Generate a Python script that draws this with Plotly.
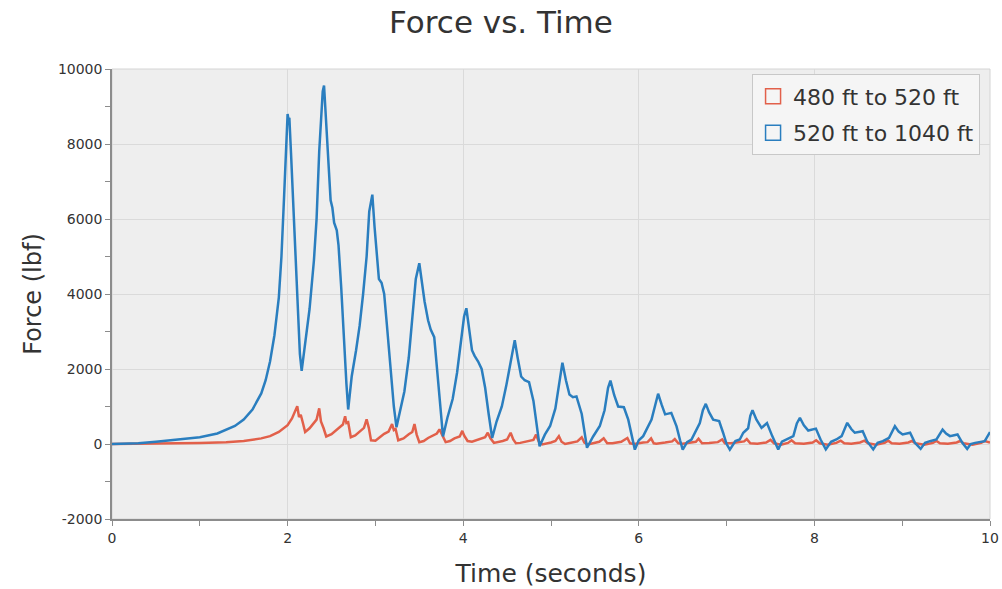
import plotly.graph_objects as go

# time (s) / force (lbf)
t_520_1040 = [0, 0.3, 0.5, 0.8, 1.0, 1.2, 1.4, 1.5, 1.6, 1.7, 1.75, 1.8, 1.85, 1.9, 1.93, 1.96, 1.98,
              2.0, 2.01, 2.02, 2.04, 2.06, 2.08, 2.10, 2.12, 2.14, 2.16, 2.2, 2.25, 2.30, 2.33, 2.36,
              2.38, 2.40, 2.415, 2.43, 2.46, 2.49, 2.51, 2.53, 2.56, 2.58, 2.61, 2.64, 2.67, 2.69,
              2.73, 2.78, 2.82, 2.86, 2.90, 2.93, 2.965, 2.99, 3.01, 3.04, 3.07, 3.10, 3.13, 3.17,
              3.21, 3.24, 3.28, 3.33, 3.38, 3.42, 3.46, 3.50, 3.53, 3.56, 3.60, 3.63, 3.67, 3.71,
              3.74, 3.77, 3.82, 3.88, 3.93, 3.98, 4.01, 4.036, 4.07, 4.10, 4.13, 4.17, 4.21, 4.25,
              4.29, 4.33, 4.38, 4.44, 4.49, 4.54, 4.587, 4.62, 4.66, 4.70, 4.75, 4.80, 4.84, 4.87,
              4.93, 4.99, 5.05, 5.09, 5.13, 5.17, 5.21, 5.25, 5.29, 5.35, 5.38, 5.41, 5.48, 5.556,
              5.61, 5.65, 5.677, 5.72, 5.765, 5.80, 5.83, 5.88, 5.92, 5.955, 6.0, 6.05, 6.145, 6.19,
              6.22, 6.26, 6.30, 6.37, 6.43, 6.47, 6.50, 6.55, 6.60, 6.695, 6.73, 6.763, 6.80, 6.847,
              6.915, 6.96, 7.0, 7.037, 7.10, 7.15, 7.19, 7.245, 7.27, 7.295, 7.34, 7.398, 7.46,
              7.52, 7.588, 7.63, 7.68, 7.76, 7.80, 7.835, 7.88, 7.93, 8.017, 8.07, 8.13, 8.19, 8.25,
              8.31, 8.374, 8.42, 8.46, 8.55, 8.60, 8.67, 8.72, 8.78, 8.85, 8.917, 8.96, 9.005, 9.09,
              9.145, 9.21, 9.26, 9.316, 9.39, 9.46, 9.50, 9.544, 9.63, 9.685, 9.74, 9.78, 9.83,
              9.94, 9.98, 10.0]
f_520_1040 = [0, 20, 60, 120, 180, 280, 480, 650, 920, 1350, 1700, 2200, 2900, 3900, 5000, 6600, 7900,
              8800, 8650, 8700, 7700, 6700, 5600, 4450, 3300, 2400, 1950, 2700, 3600, 4900, 6000, 7800,
              8800, 9400, 9560, 9000, 7600, 6500, 6300, 5900, 5700, 5300, 4200, 2800, 1600, 920,
              1800, 2500, 3150, 4000, 5000, 6200, 6650, 5800, 5250, 4400, 4300, 4000, 3200, 2000,
              1000, 450, 900, 1400, 2300, 3400, 4400, 4820, 4300, 3800, 3300, 3050, 2850, 1800,
              900, 200, 700, 1200, 1900, 2800, 3400, 3620, 3000, 2500, 2350, 2200, 2000, 1500,
              800, 160, 600, 1000, 1550, 2200, 2770, 2300, 1800, 1700, 1650, 1150, 400, -60,
              250, 480, 950, 1600, 2170, 1700, 1320, 1250, 1270, 800, 300, -100, 200, 480,
              900, 1500, 1690, 1300, 1000, 1000, 980, 650, 200, -150, 100, 210, 650, 1100,
              1340, 1050, 790, 830, 470, 100, -150, 50, 120, 560, 900, 1070, 850, 650,
              610, 300, 0, -150, 80, 120, 300, 420, 750, 900, 650, 430, 560,
              210, -145, 60, 120, 210, 550, 700, 500, 360, 410, 120, -145, 60, 120,
              210, 565, 400, 300, 340, 75, -145, 30, 75, 165, 475, 330, 255, 300,
              30, -130, 30, 75, 120, 385, 280, 210, 255, 30, -130, 0, 30,
              75, 255, 320]

t_480_520 = [0, 0.5, 1.0, 1.3, 1.5, 1.7, 1.8, 1.9, 1.95, 2.0, 2.05, 2.08, 2.11, 2.13, 2.15, 2.17,
             2.2, 2.25, 2.3, 2.33, 2.36, 2.38, 2.41, 2.44, 2.5, 2.55, 2.6, 2.63, 2.655, 2.67, 2.69,
             2.72, 2.77, 2.82, 2.87, 2.90, 2.925, 2.95, 3.0, 3.05, 3.1, 3.15, 3.19, 3.21, 3.23,
             3.26, 3.32, 3.38, 3.42, 3.445, 3.47, 3.5, 3.55, 3.6, 3.65, 3.70, 3.73, 3.75, 3.78,
             3.8, 3.85, 3.9, 3.96, 3.99, 4.01, 4.05, 4.1, 4.15, 4.2, 4.25, 4.28, 4.31, 4.35,
             4.4, 4.45, 4.5, 4.54, 4.57, 4.6, 4.65, 4.7, 4.75, 4.8, 4.83, 4.86, 4.9, 4.95,
             5.0, 5.05, 5.09, 5.12, 5.16, 5.2, 5.25, 5.3, 5.35, 5.38, 5.42, 5.5, 5.55, 5.6,
             5.64, 5.7, 5.75, 5.8, 5.87, 5.9, 5.95, 6.0, 6.05, 6.1, 6.14, 6.17, 6.2, 6.3,
             6.38, 6.41, 6.45, 6.5, 6.6, 6.65, 6.68, 6.72, 6.8, 6.9, 6.95, 6.98, 7.05, 7.15,
             7.2, 7.23, 7.27, 7.35, 7.45, 7.5, 7.54, 7.62, 7.7, 7.74, 7.78, 7.88, 7.98, 8.02,
             8.06, 8.15, 8.25, 8.3, 8.34, 8.42, 8.52, 8.57, 8.61, 8.7, 8.8, 8.84, 8.88, 8.97,
             9.07, 9.11, 9.15, 9.25, 9.35, 9.39, 9.43, 9.52, 9.62, 9.66, 9.7, 9.8, 9.9, 9.94,
             10.0]
f_480_520 = [0, 10, 30, 50, 80, 150, 210, 320, 400, 500, 680, 850, 1010, 720, 780, 600,
             320, 420, 560, 650, 950, 600, 420, 200, 260, 360, 450, 520, 740, 560, 580,
             180, 230, 330, 430, 660, 430, 100, 90, 180, 270, 330, 530, 370, 400,
             100, 150, 260, 320, 530, 250, 50, 80, 160, 230, 280, 390, 300, 160,
             50, 80, 150, 200, 350, 230, 80, 60, 100, 140, 180, 300, 150, 30,
             50, 80, 120, 300, 120, 20, 30, 60, 100, 110, 250, 70, -10, 10,
             40, 80, 210, 60, 0, 20, 40, 70, 180, 40, -10, 30, 60, 150,
             20, 20, 40, 60, 160, 20, 0, 30, 40, 50, 150, 20, 10, 40,
             70, 130, 20, 10, 40, 60, 140, 20, 30, 50, 120, 20, 20, 50,
             70, 130, 20, 10, 40, 110, 20, -20, 30, 100, 20, 10, 40, 100,
             20, -20, 30, 90, 20, 10, 40, 90, 20, -20, 30, 90, 20, 10,
             40, 80, 20, -20, 30, 80, 20, 10, 40, 80, 20, -20, 30, 80,
             40]

# y tick labels use a plain hyphen for the negative value, as in the original
y_ticks = [-2000, 0, 2000, 4000, 6000, 8000, 10000]
y_labels = ["-2000", "0", "2000", "4000", "6000", "8000", "10000"]

blue = "#2a7ebf"
red = "#e2604a"
font = "DejaVu Sans"
txt = "#333333"

fig = go.Figure()
fig.add_trace(go.Scatter(x=t_480_520, y=f_480_520, mode="lines", showlegend=False,
                         line=dict(color=red, width=2.5)))
fig.add_trace(go.Scatter(x=t_520_1040, y=f_520_1040, mode="lines", showlegend=False,
                         line=dict(color=blue, width=2.5)))
# legend-only entries, drawn as open squares like the checkboxes in the original
for name, col in [("480 ft to 520 ft", red), ("520 ft to 1040 ft", blue)]:
    fig.add_trace(go.Scatter(x=[None], y=[None], mode="markers", name=name, legendgroup=name,
                             marker=dict(symbol="square-open", size=15, color=col,
                                         line=dict(width=1.5))))

axis_common = dict(showgrid=True, gridcolor="#dadada", gridwidth=1, zeroline=False,
                   showline=True, linecolor="#8c8c8c", linewidth=1.5, automargin=False,
                   ticks="outside", ticklen=5, tickcolor="#8c8c8c", tickformat="d",
                   tickfont=dict(family=font, size=14, color=txt))

fig.update_xaxes(range=[0, 10], dtick=2, tick0=0,
                 minor=dict(dtick=1, ticks="outside", ticklen=5, tickcolor="#8c8c8c", showgrid=False),
                 title=dict(text="Time (seconds)", font=dict(family=font, size=25, color=txt),
                            standoff=20),
                 **axis_common)
fig.update_yaxes(range=[-2000, 10000], tickmode="array", tickvals=y_ticks, ticktext=y_labels,
                 minor=dict(dtick=1000, tick0=0, ticks="outside", ticklen=5, tickcolor="#8c8c8c",
                            showgrid=False),
                 title=dict(text="Force (lbf)", font=dict(family=font, size=24, color=txt),
                            standoff=10),
                 **axis_common)

fig.update_layout(
    width=1002, height=589,
    margin=dict(l=112, r=12, t=69, b=70),
    paper_bgcolor="white",
    plot_bgcolor="#eeeeee",
    title=dict(text="Force vs. Time", x=0.5, xanchor="center", y=0.962, yanchor="middle",
               font=dict(family=font, size=31, color=txt)),
    legend=dict(x=0.729, y=0.988, xanchor="left", yanchor="top",
                bgcolor="#f5f5f5", bordercolor="#c8c8c8", borderwidth=1,
                font=dict(family=font, size=22, color=txt),
                itemwidth=30, tracegroupgap=5),
    shapes=[dict(type="rect", xref="paper", yref="paper", x0=0, y0=0, x1=1, y1=1,
                 line=dict(color="#d4d4d4", width=1), layer="below")],
)

# drop the default 8px page margin so the figure fills the window exactly
fig.write_html("out.html", config={"displayModeBar": False},
               post_script="document.body.style.margin='0';")
